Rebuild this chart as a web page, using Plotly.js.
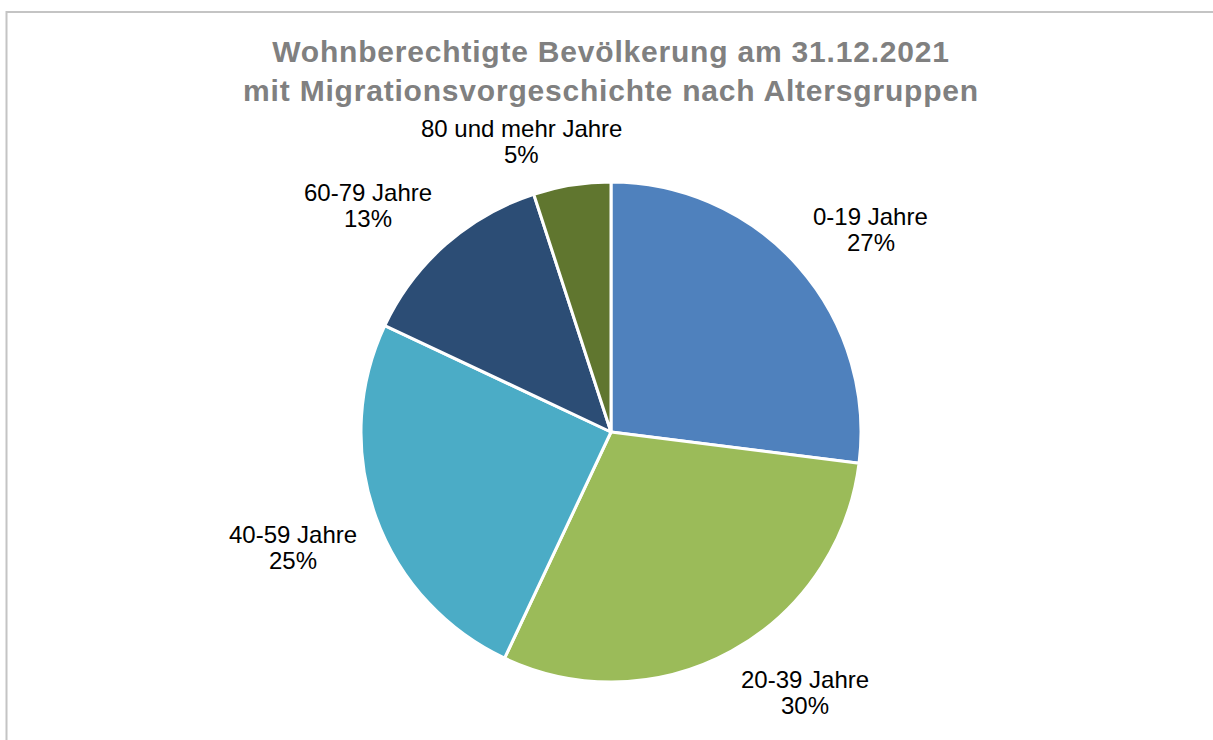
<!DOCTYPE html>
<html>
<head>
<meta charset="utf-8">
<script src="https://cdn.plot.ly/plotly-3.0.1.min.js"></script>
<style>
html, body { margin: 0; padding: 0; background: #fff; }
#chart { width: 1213px; height: 740px; }
.gtitle { letter-spacing: 0.8px; }
</style>
</head>
<body>
<div id="chart"></div>
<script>
const categories = ["0-19 Jahre", "20-39 Jahre", "40-59 Jahre", "60-79 Jahre", "80 und mehr Jahre"];
const shares = [27, 30, 25, 13, 5];
const percentLabels = ["27%", "30%", "25%", "13%", "5%"];
const sliceColors = ["#4F81BD", "#9BBB59", "#4BACC6", "#2C4D75", "#60762F"];

const W = 1213, H = 740;
const cx = 611, cy = 432, R = 250;
const fontFamily = "Arial, 'Liberation Sans', sans-serif";
const labelSize = 24;
const lineGap = 26;
const canvas = document.createElement("canvas");
const ctx = canvas.getContext("2d");
ctx.font = labelSize + "px Arial, 'Liberation Sans', sans-serif";

const total = shares.reduce((a, b) => a + b, 0);
const annotations = [];
let cum = 0;
const clamp = (v) => Math.max(-1, Math.min(1, v));
shares.forEach((v, i) => {
  const mid = (cum + v / 2) / total * 2 * Math.PI;
  cum += v;
  const s = Math.sin(mid), c = Math.cos(mid);
  const gap = 20;
  const px = cx + (R + gap) * s;
  const py = cy - (R + gap) * c;
  const w = Math.max(ctx.measureText(categories[i]).width, ctx.measureText(percentLabels[i]).width);
  const h = 48;
  const sx = clamp(s * 3), sy = clamp(-c * 3);
  const tx = px + sx * w / 2;
  const ty = py + sy * h / 2;
  [categories[i], percentLabels[i]].forEach((t, k) => {
    annotations.push({
      x: tx / W, y: 1 - (ty + (k - 0.5) * lineGap) / H, xref: "paper", yref: "paper",
      xanchor: "center", yanchor: "middle", showarrow: false, align: "center",
      text: t,
      font: { family: fontFamily, size: labelSize, color: "#000000" }
    });
  });
});

const data = [{
  type: "pie",
  labels: categories,
  values: shares,
  sort: false,
  direction: "clockwise",
  rotation: 0,
  textinfo: "none",
  hoverinfo: "label+percent",
  marker: { colors: sliceColors, line: { color: "#FFFFFF", width: 3 } },
  domain: { x: [(cx - R) / W, (cx + R) / W], y: [1 - (cy + R) / H, 1 - (cy - R) / H] },
  showlegend: false
}];

const layout = {
  width: W, height: H,
  margin: { l: 0, r: 0, t: 0, b: 0 },
  paper_bgcolor: "#FFFFFF",
  showlegend: false,
  title: {
    text: "Wohnberechtigte Bevölkerung am 31.12.2021<br>mit Migrationsvorgeschichte nach Altersgruppen",
    x: 611 / W, xanchor: "center",
    y: 1 - 62 / H, yanchor: "middle",
    font: { family: fontFamily, size: 30, color: "#808080", weight: "bold" }
  },
  annotations: annotations,
  shapes: [{
    type: "rect", xref: "paper", yref: "paper",
    x0: 6.5 / W, x1: 1.02, y0: -0.02, y1: 1 - 12 / H,
    line: { color: "#C4C4C4", width: 2 }, fillcolor: "rgba(0,0,0,0)"
  }]
};

Plotly.newPlot("chart", data, layout, { displayModeBar: false, staticPlot: true });
</script>
</body>
</html>
